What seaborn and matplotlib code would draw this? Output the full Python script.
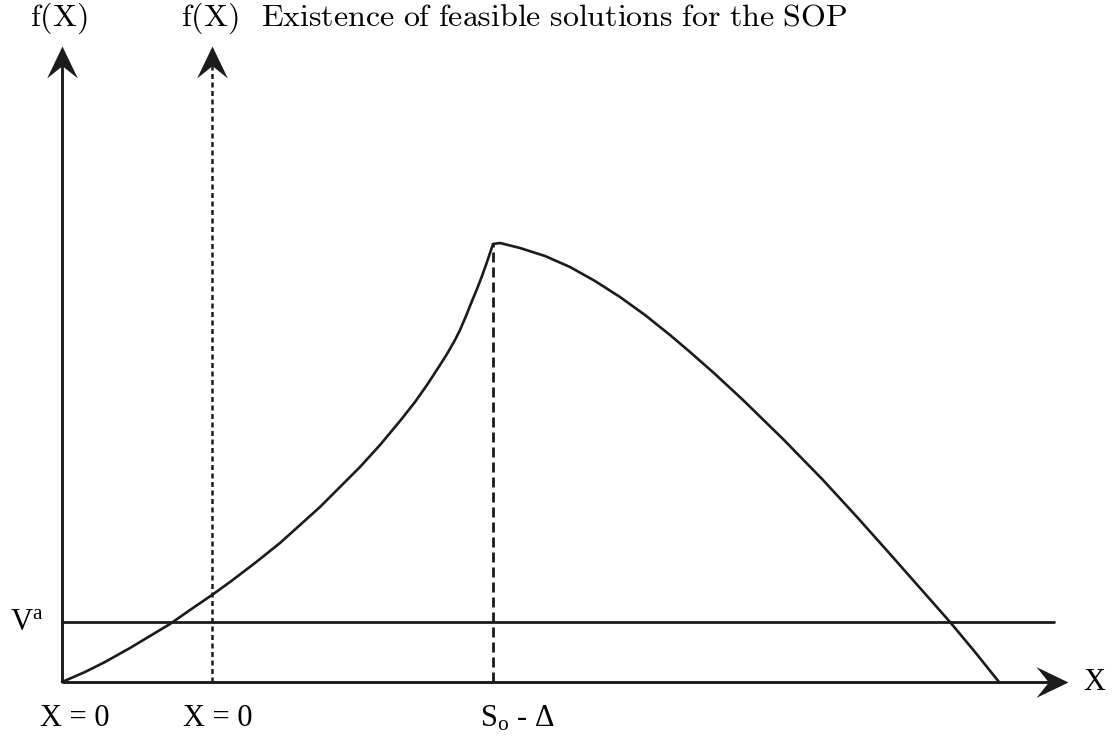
import matplotlib
matplotlib.use("Agg")

import matplotlib.pyplot as plt
import seaborn as sns
import numpy as np
from matplotlib.path import Path as MPath

# ---------------------------------------------------------------------------
# Data (arbitrary units: origin of the plot at 0, 0)
# ---------------------------------------------------------------------------
rise_x = [0, 23, 43, 68, 88, 108, 128, 150, 168, 193, 218, 238, 258, 278, 298,
          318, 338, 353, 365, 378, 385, 393, 398, 404, 410, 415, 420, 425, 428, 431]
rise_y = [0, 10, 20, 34, 46, 58, 72, 87, 100, 119, 139, 157, 175, 195, 215,
          237, 261, 280, 297, 317, 328, 342, 352, 366, 381, 393, 406, 420, 429, 438]
fall_x = [438, 458, 483, 508, 533, 558, 583, 608, 628, 653, 681, 721, 761, 795,
          828, 858, 888, 913, 937]
fall_y = [439, 434, 426, 415, 401, 385, 367, 347, 330, 308, 282, 243, 202, 165,
          128, 94, 60, 30, 0]

v_a_level = 60          # V^a threshold
v_a_end = 992           # right end of the V^a line
x0_shift = 150          # shifted origin (second "X = 0")
peak_x = 431            # S_o - Δ
peak_y = 438
y_axis_top = 636
x_axis_end = 1006

top_labels = ["f(X)", "f(X)"]
title_text = "Existence of feasible solutions for the SOP"
bottom_labels = ["X = 0", "X = 0"]

INK = "#1c1a1b"

# ---------------------------------------------------------------------------
sns.set_theme(style="white")
plt.rcParams["mathtext.fontset"] = "custom"
plt.rcParams["mathtext.rm"] = "Liberation Serif"
plt.rcParams["mathtext.it"] = "Liberation Serif:italic"
plt.rcParams["font.family"] = ["Liberation Serif", "DejaVu Serif"]

fig = plt.figure(figsize=(11.14, 7.44), dpi=100)
ax = fig.add_axes([0, 0, 1, 1])
ax.set_xlim(-62, 1052)
ax.set_ylim(-62, 682)
ax.axis("off")


def _arrow_marker(direction):
    """Stealth arrow head with its tip at the marker origin."""
    verts = np.array([(0, 0), (-12.5, -26), (0, -16), (12.5, -26), (0, 0)])
    if direction == "right":
        verts = np.column_stack([verts[:, 1], -verts[:, 0]])
    codes = [MPath.MOVETO, MPath.LINETO, MPath.LINETO, MPath.LINETO, MPath.CLOSEPOLY]
    return MPath(verts, codes)


HEAD = 46  # marker size in points

# axes with arrows
ax.plot([0, 0], [0, y_axis_top - 14], color=INK, lw=2.1, solid_capstyle="butt")
ax.plot([0], [y_axis_top], marker=_arrow_marker("up"), ms=HEAD, color=INK, mew=0)
ax.plot([0, x_axis_end - 14], [0, 0], color=INK, lw=2.1, solid_capstyle="butt")
ax.plot([x_axis_end], [0], marker=_arrow_marker("right"), ms=HEAD, color=INK, mew=0)

# shifted (dotted) axis
ax.plot([x0_shift, x0_shift], [0, y_axis_top - 14], color=INK, lw=1.8,
        dashes=(2.0, 1.4))
ax.plot([x0_shift], [y_axis_top], marker=_arrow_marker("up"), ms=HEAD, color=INK, mew=0)

# V^a line
ax.plot([0, v_a_end], [v_a_level, v_a_level], color=INK, lw=2.0)

# dashed drop line from the peak
ax.plot([peak_x, peak_x], [0, peak_y], color=INK, lw=2.0, dashes=(3.6, 1.8))

# f(X) curve
sns.lineplot(x=rise_x + fall_x, y=rise_y + fall_y, sort=False, estimator=None,
             color=INK, lw=1.9, ax=ax)

# texts
for xpos, lab in zip([-3, x0_shift - 2], top_labels):
    ax.text(xpos, 664, r"$\mathrm{" + lab + "}$", ha="center", va="center",
            fontsize=23, math_fontfamily="cm", color="black")
ax.text(199, 664, r"$\mathrm{" + title_text.replace(" ", r"\ ") + "}$",
        ha="left", va="center", fontsize=23, math_fontfamily="cm", color="black")

for xpos, lab in zip([13, x0_shift + 6], bottom_labels):
    ax.text(xpos, -37, lab, ha="center", va="center", fontsize=22, color="black")
ax.text(418, -37, r"$\mathrm{S_{o}}$ - Δ", ha="left", va="center", fontsize=22,
        color="black")
ax.text(-52, 52, r"$\mathrm{V^{a}}$", ha="left", va="baseline", fontsize=22,
        color="black")
ax.text(1021, 0, "X", ha="left", va="center", fontsize=22, color="black")

fig.savefig("out.png", dpi=100)
